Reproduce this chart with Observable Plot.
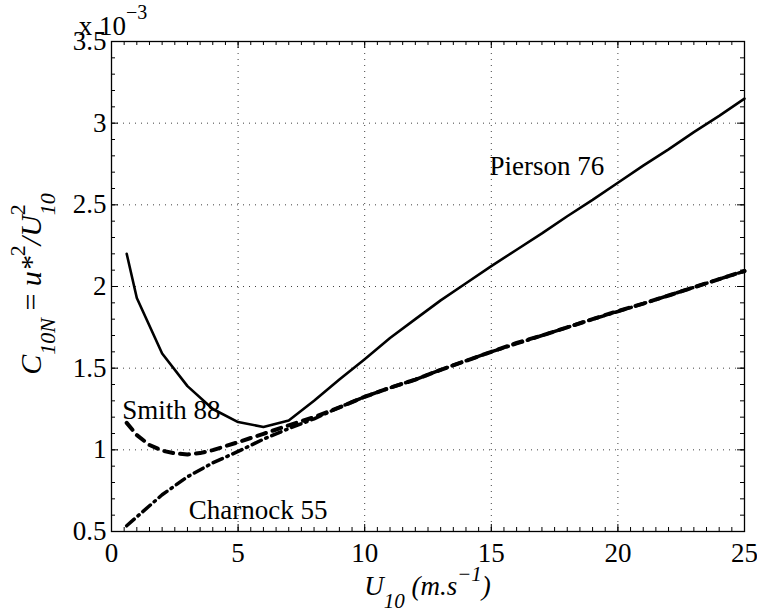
<!DOCTYPE html>
<html>
<head>
<meta charset="utf-8">
<script src="https://cdn.jsdelivr.net/npm/d3@7"></script>
<script src="https://cdn.jsdelivr.net/npm/@observablehq/plot@0.6"></script>
<style>
  html, body { margin: 0; padding: 0; background: #fff; }
  #chart svg { display: block; }
  #chart svg, #chart svg text, #chart svg tspan { font-family: "Liberation Serif", "Times New Roman", serif !important; }
</style>
</head>
<body>
<div id="chart"></div>
<script>
// ---- Data (drag coefficient in units of 1e-3) ----
const piersonU = [0.6, 1, 2, 3, 4, 5, 6, 7, 8, 9, 10, 11, 12, 13, 14, 15, 16, 17, 18, 19, 20, 21, 22, 23, 24, 25];
const pierson76 = [2.20, 1.93, 1.59, 1.39, 1.25, 1.17, 1.14, 1.18, 1.30, 1.43, 1.555, 1.685, 1.80, 1.915, 2.02, 2.125, 2.225, 2.325, 2.43, 2.53, 2.635, 2.74, 2.84, 2.945, 3.045, 3.15];

const smithU = [0.6, 1, 1.5, 2, 2.5, 3, 3.5, 4, 5, 6, 7, 8, 9, 10, 11, 12, 13, 14, 15, 16, 17, 18, 19, 20, 21, 22, 23, 24, 25];
const smith88 = [1.165, 1.09, 1.03, 0.995, 0.978, 0.972, 0.98, 0.998, 1.047, 1.098, 1.15, 1.20, 1.26, 1.325, 1.38, 1.43, 1.49, 1.545, 1.60, 1.655, 1.70, 1.75, 1.80, 1.85, 1.895, 1.945, 1.995, 2.045, 2.095];

const charnockU = [0.6, 1, 2, 3, 4, 5, 6, 7, 8, 9, 10, 11, 12, 13, 14, 15, 16, 17, 18, 19, 20, 21, 22, 23, 24, 25];
const charnock55 = [0.535, 0.59, 0.725, 0.835, 0.92, 0.99, 1.065, 1.13, 1.19, 1.26, 1.325, 1.38, 1.43, 1.49, 1.545, 1.60, 1.65, 1.70, 1.75, 1.80, 1.847, 1.895, 1.945, 1.995, 2.045, 2.094];

// ---- Ticks ----
const xMajorTicks = [0, 5, 10, 15, 20, 25];
const xTickLabels = ["0", "5", "10", "15", "20", "25"];
const yMajorTicks = [0.5, 1, 1.5, 2, 2.5, 3, 3.5];
const yTickLabels = ["0.5", "1", "1.5", "2", "2.5", "3", "3.5"];
const xGridTicks = [5, 10, 15, 20];
const yGridTicks = [1, 1.5, 2, 2.5, 3];
const xMinorTicks = d3.range(0, 25.001, 0.5);
const yMinorTicks = d3.range(0.5, 3.5001, 0.1);

// ---- Curve labels ----
const curveLabelText = ["Pierson 76", "Smith 88", "Charnock 55"];
const curveLabelU = [14.93, 0.42, 3.05];
const curveLabelC = [2.68, 1.19, 0.578];

// ---- Build tables ----
const toRows = (xs, ys) => xs.map((x, i) => ({x, y: ys[i]}));
const piersonRows = toRows(piersonU, pierson76);
const smithRows = toRows(smithU, smith88);
const charnockRows = toRows(charnockU, charnock55);
const labelRows = curveLabelText.map((t, i) => ({label: t, x: curveLabelU[i], y: curveLabelC[i]}));

const W = 757, H = 614, mL = 111, mR = 13, mT = 41, mB = 83;
const plotW = W - mL - mR, plotH = H - mT - mB;
const FONT = "Liberation Serif";
const FS = 27;

const chart = Plot.plot({
  width: W,
  height: H,
  marginLeft: mL,
  marginRight: mR,
  marginTop: mT,
  marginBottom: mB,
  style: {fontFamily: FONT, fontSize: FS + "px", color: "#000", background: "#fff", overflow: "visible"},
  x: {domain: [0, 25]},
  y: {domain: [0.5, 3.5]},
  marks: [
    Plot.gridX(xGridTicks, {stroke: "#000", strokeOpacity: 0.75, strokeDasharray: "1,5"}),
    Plot.gridY(yGridTicks, {stroke: "#000", strokeOpacity: 0.75, strokeDasharray: "1,5"}),
    // inward ticks: bottom & top
    Plot.tickX(xMinorTicks, {x: d => d, insetTop: plotH - 4, stroke: "#000"}),
    Plot.tickX(xMinorTicks, {x: d => d, insetBottom: plotH - 4, stroke: "#000"}),
    Plot.tickX(xMajorTicks, {x: d => d, insetTop: plotH - 7, stroke: "#000"}),
    Plot.tickX(xMajorTicks, {x: d => d, insetBottom: plotH - 7, stroke: "#000"}),
    // inward ticks: left & right
    Plot.tickY(yMinorTicks, {y: d => d, insetRight: plotW - 4, stroke: "#000"}),
    Plot.tickY(yMinorTicks, {y: d => d, insetLeft: plotW - 4, stroke: "#000"}),
    Plot.tickY(yMajorTicks, {y: d => d, insetRight: plotW - 7, stroke: "#000"}),
    Plot.tickY(yMajorTicks, {y: d => d, insetLeft: plotW - 7, stroke: "#000"}),
    Plot.axisX(xMajorTicks, {tickSize: 0, tickPadding: 11, label: null, fontSize: FS,
      tickFormat: d => xTickLabels[xMajorTicks.indexOf(d)]}),
    Plot.axisY(yMajorTicks, {tickSize: 0, tickPadding: 5, label: null, fontSize: FS,
      tickFormat: d => yTickLabels[yMajorTicks.indexOf(d)]}),
    Plot.frame({stroke: "#000", strokeWidth: 1.3}),
    Plot.line(charnockRows, {x: "x", y: "y", stroke: "#000", strokeWidth: 3.5, strokeDasharray: "10,5,1.5,5", curve: "linear"}),
    Plot.line(smithRows, {x: "x", y: "y", stroke: "#000", strokeWidth: 4, strokeDasharray: "9,7", curve: "linear"}),
    Plot.line(piersonRows, {x: "x", y: "y", stroke: "#000", strokeWidth: 2.6, curve: "linear"}),
    Plot.text(labelRows, {x: "x", y: "y", text: "label", textAnchor: "start", lineAnchor: "bottom", fontSize: FS, fill: "#000"})
  ]
});

document.getElementById("chart").appendChild(chart);

// ---- Rich-text labels (sub/superscripts) ----
const svg = d3.select(chart);
function rich(g, parts) {
  parts.forEach(p => {
    const t = g.append("tspan").text(p.t);
    if (p.i) t.attr("font-style", "italic");
    if (p.fs) t.attr("font-size", p.fs);
    if (p.dy) t.attr("dy", p.dy);
    if (p.dx) t.attr("dx", p.dx);
  });
}

// x 10^-3
const sci = svg.append("text").attr("x", mL + 2).attr("y", 35)
  .attr("font-size", FS).attr("fill", "#000");
rich(sci, [{t: "x 10"}, {t: "\u22123", fs: 20, dy: -16}]);

// x label
const xl = svg.append("text").attr("x", (mL + W - mR) / 2).attr("y", 595)
  .attr("text-anchor", "middle").attr("font-size", 27).attr("fill", "#000");
rich(xl, [
  {t: "U", i: true},
  {t: "10", i: true, fs: 21, dy: 13},
  {t: " (m.s", i: true, dy: -13},
  {t: "\u22121", i: true, fs: 21, dy: -14},
  {t: ")", i: true, dy: 14}
]);

// y label
const yl = svg.append("text")
  .attr("transform", `translate(41,${284}) rotate(-90)`)
  .attr("text-anchor", "middle").attr("font-size", 30).attr("fill", "#000");
rich(yl, [
  {t: "C", i: true},
  {t: "10N", i: true, fs: 22, dy: 14},
  {t: " = ", dy: -14},
  {t: "u*", i: true},
  {t: "2", fs: 22, dy: -16},
  {t: "/U", i: true, dy: 16},
  {t: "2", fs: 22, dy: -16},
  {t: "10", i: true, fs: 22, dy: 30, dx: -11},
  {t: "", dy: -14}
]);
</script>
</body>
</html>
